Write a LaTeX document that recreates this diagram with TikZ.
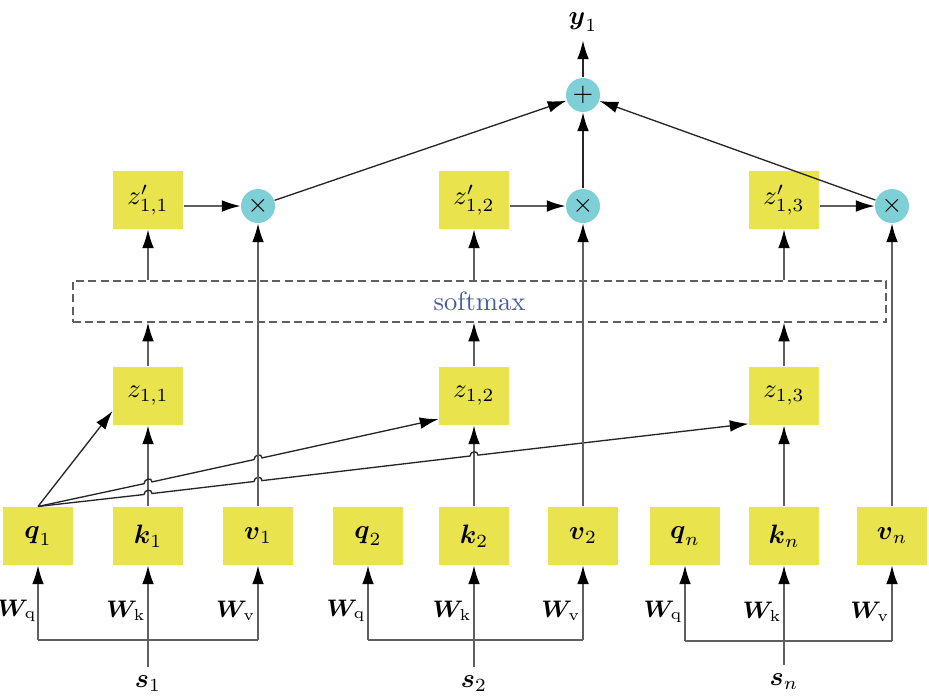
\documentclass[tikz,border=0pt]{standalone}
\usepackage{amsmath}
\usepackage{amssymb}
\usetikzlibrary{arrows.meta,calc}
\definecolor{boxyellow}{RGB}{233,227,78}
\definecolor{opcyan}{RGB}{126,207,214}
\definecolor{linegray}{RGB}{95,95,95}
\definecolor{softblue}{RGB}{70,90,160}
\begin{document}
\begin{tikzpicture}[x=0.375bp,y=-0.375bp,
	vec/.style={fill=boxyellow,minimum width=26.25bp,minimum height=21.75bp,inner sep=0pt},
	op/.style={circle,fill=opcyan,minimum size=12.75bp,inner sep=0pt},
	arr/.style={-{Latex[length=7bp,width=4.4bp,color=black]},draw=linegray,line width=0.5bp},
	link/.style={draw=linegray,line width=0.5bp},
	wlabel/.style={anchor=east,inner sep=0pt,font=\fontsize{9}{10}\selectfont}]
				\useasboundingbox (0,0) rectangle (929,698);
				% bottom row: q, k, v of each input
				\node[vec] (q1) at (38,536) {$\boldsymbol{q}_1$};
				\node[vec] (k1) at (148,536) {$\boldsymbol{k}_1$};
				\node[vec] (v1) at (258,536) {$\boldsymbol{v}_1$};
				\node[vec] (q2) at (368,536) {$\boldsymbol{q}_2$};
				\node[vec] (k2) at (474,536) {$\boldsymbol{k}_2$};
				\node[vec] (v2) at (583,536) {$\boldsymbol{v}_2$};
				\node[vec] (qn) at (685,536) {$\boldsymbol{q}_n$};
				\node[vec] (kn) at (784,536) {$\boldsymbol{k}_n$};
				\node[vec] (vn) at (892,536) {$\boldsymbol{v}_n$};
				% inputs and weights
				\node (s1) at (148,684) {$\boldsymbol{s}_1$};
				\node (s2) at (474,684) {$\boldsymbol{s}_2$};
				\node (sn) at (784,682) {$\boldsymbol{s}_n$};
				\coordinate (b1) at (148,640);
				\coordinate (b2) at (474,640);
				\coordinate (bn) at (784,641);
				\node[wlabel] (wq1) at (37,611) {$\boldsymbol{W}_{\!\mathrm{q}}$};
				\node[wlabel] (wk1) at (146,611) {$\boldsymbol{W}_{\!\mathrm{k}}$};
				\node[wlabel] (wv1) at (256,611) {$\boldsymbol{W}_{\!\mathrm{v}}$};
				\node[wlabel] (wq2) at (366,611) {$\boldsymbol{W}_{\!\mathrm{q}}$};
				\node[wlabel] (wk2) at (472,611) {$\boldsymbol{W}_{\!\mathrm{k}}$};
				\node[wlabel] (wv2) at (581,611) {$\boldsymbol{W}_{\!\mathrm{v}}$};
				\node[wlabel] (wqn) at (683,612) {$\boldsymbol{W}_{\!\mathrm{q}}$};
				\node[wlabel] (wkn) at (782,612) {$\boldsymbol{W}_{\!\mathrm{k}}$};
				\node[wlabel] (wvn) at (890,612) {$\boldsymbol{W}_{\!\mathrm{v}}$};
				\draw[link] (q1 |- b1) -- (v1 |- b1);
				\draw[link] (q2 |- b2) -- (v2 |- b2);
				\draw[link] (qn |- bn) -- (vn |- bn);
				\draw[arr] (s1) -- (k1);
				\draw[arr] (s2) -- (k2);
				\draw[arr] (sn) -- (kn);
				\draw[arr] (q1 |- b1) -- (q1);
				\draw[arr] (v1 |- b1) -- (v1);
				\draw[arr] (q2 |- b2) -- (q2);
				\draw[arr] (v2 |- b2) -- (v2);
				\draw[arr] (qn |- bn) -- (qn);
				\draw[arr] (vn |- bn) -- (vn);
				% scores, softmax, weights
				\node[vec] (z11) at (148,396) {$z_{1,1}$};
				\node[vec] (z12) at (474,396) {$z_{1,2}$};
				\node[vec] (z13) at (784,396) {$z_{1,3}$};
				\node[draw=linegray,dash pattern=on 3bp off 1.6bp,line width=0.5bp,minimum width=304.9bp,minimum height=15.4bp,inner sep=0pt,text=softblue] (soft) at (479.5,301.5) {softmax};
				\node[vec] (zp11) at (148,200) {$z'_{1,1}$};
				\node[vec] (zp12) at (474,200) {$z'_{1,2}$};
				\node[vec] (zp13) at (784,200) {$z'_{1,3}$};
				\node[op] (m1) at (258,206) {$\times$};
				\node[op] (m2) at (583,206) {$\times$};
				\node[op] (m3) at (892,206) {$\times$};
				\node[op] (plus) at (583,95) {$+$};
				\node (y1) at (583,22) {$\boldsymbol{y}_1$};
				\draw[arr] (k1) -- (z11);
				\draw[arr] (k2) -- (z12);
				\draw[arr] (kn) -- (z13);
				\draw[arr,draw=black!85] (q1.north) -- (z11.203);
				\draw[arr,draw=black!85] (q1.north) -- (144,483.7) .. controls (144,478.7) and (152,476.9) .. (152,481.9)
					-- (254,459.6) .. controls (254,454.6) and (262,452.9) .. (262,457.9) -- (z12.213);
				\draw[arr,draw=black!85] (q1.north) -- (144,494.5) .. controls (144,489.5) and (152,488.5) .. (152,493.5)
					-- (254,481.5) .. controls (254,476.5) and (262,475.6) .. (262,480.6)
					-- (470,456.0) .. controls (470,451.0) and (478,450.1) .. (478,455.1) -- (z13.218);
				\draw[arr] (z11) -- (z11 |- soft.south);
				\draw[arr] (z12) -- (z12 |- soft.south);
				\draw[arr] (z13) -- (z13 |- soft.south);
				\draw[arr] (zp11 |- soft.north) -- (zp11);
				\draw[arr] (zp12 |- soft.north) -- (zp12);
				\draw[arr] (zp13 |- soft.north) -- (zp13);
				\draw[arr] (zp11.east |- m1) -- (m1);
				\draw[arr] (zp12.east |- m2) -- (m2);
				\draw[arr] (zp13.east |- m3) -- (m3);
				\draw[arr] (v1) -- (m1);
				\draw[arr] (v2) -- (m2);
				\draw[arr] (vn) -- (m3);
				\draw[arr,draw=black!85] (m1) -- (plus);
				\draw[arr,draw=black!85] (m2) -- (plus);
				\draw[arr,draw=black!85] (m3) -- (plus);
				\draw[arr,draw=black!85] (plus) -- (y1);
\end{tikzpicture}
\end{document}
